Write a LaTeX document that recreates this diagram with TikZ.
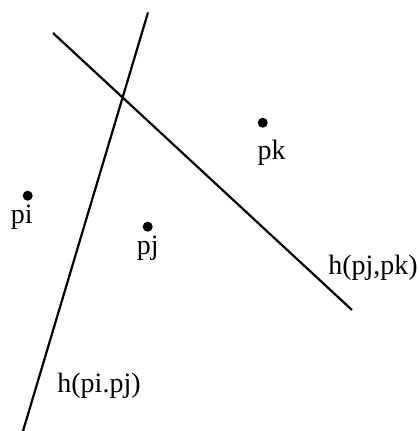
\documentclass[tikz,border=0pt]{standalone}
\usepackage{fontspec}
\setmainfont{Liberation Serif}
\usetikzlibrary{positioning}

\begin{document}
\begin{tikzpicture}[
  x=1pt, y=-1pt,
  site/.style={circle, fill=black, inner sep=0pt, minimum size=10pt},
  lbl/.style={font=\fontsize{28}{30}\selectfont, inner sep=1pt},
  bisector/.style={line width=2.2pt}
]
\useasboundingbox (0,0) rectangle (418,431);

\node[site] (pi) at (27.7,195.7) {};
\node[site] (pj) at (147.7,226.7) {};
\node[site] (pk) at (262.7,122.7) {};

\node[lbl, below=3pt of pi, xshift=-6pt] (pilbl) {pi};
\node[lbl, below=3pt of pj] (pjlbl) {pj};
\node[lbl, below=11pt of pk, xshift=9pt] (pklbl) {pk};

\coordinate (hija) at (148,12.5);
\coordinate (hijb) at (23,431);
\coordinate (hjka) at (53,33);
\coordinate (hjkb) at (352,310);

\draw[bisector] (hija) -- (hijb);
\draw[bisector] (hjka) -- (hjkb);

\node[lbl] (hjk) at (373,268) {h(pj,pk)};
\node[lbl] (hij) at (99,386) {h(pi.pj)};

\end{tikzpicture}
\end{document}
